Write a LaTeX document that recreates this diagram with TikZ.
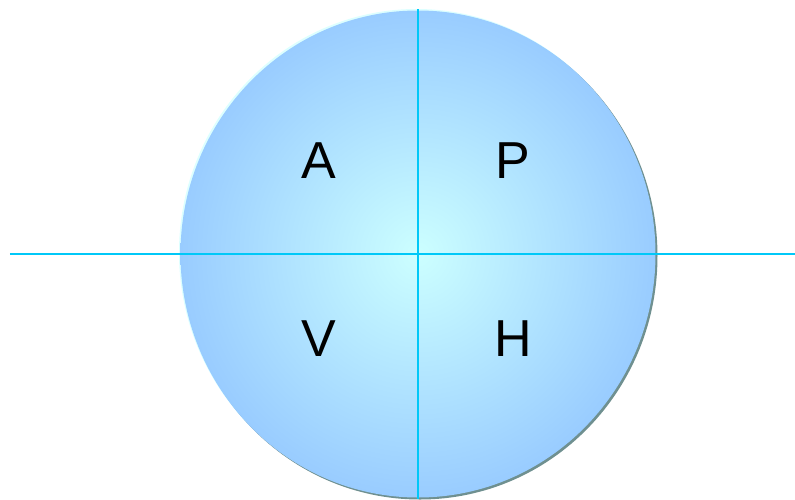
\documentclass[tikz,border=0pt]{standalone}
\usepackage{fontspec}
\setmainfont{Liberation Sans}
\definecolor{axiscolor}  {HTML}{00C8F8}
\definecolor{innerfill}  {HTML}{CCFFFF}
\definecolor{outerfill}  {HTML}{99CCFF}
\definecolor{shadowcolor}{HTML}{6F9090}
\definecolor{glowcolor}  {HTML}{DDFFFF}
\tikzset{
  quadlabel/.style={inner sep=0pt, font=\fontsize{52}{60}\selectfont, text=black},
  axisline/.style={draw=axiscolor, line width=1.9pt}
}
\begin{document}
\begin{tikzpicture}[x=1pt,y=1pt]
\useasboundingbox (-418,-245) rectangle (377,254);

%% ── Disc with edge shadow and glow ───────────────────────────────
\fill[glowcolor] (-1.5,1.5) ellipse [x radius=237.5, y radius=243.5];
\fill[shadowcolor] (2,-2) ellipse [x radius=237.5, y radius=243.5];
\shade[inner color=innerfill, outer color=outerfill]
  (0,0) ellipse [x radius=237.5, y radius=243.5];

%% ── Axes ─────────────────────────────────────────────────────────
\coordinate (west)  at (-408,0);
\coordinate (east)  at (377,0);
\coordinate (north) at (0,245);
\coordinate (south) at (0,-245);
\draw[axisline] (west) -- (east);
\draw[axisline] (north) -- (south);

%% ── Quadrant letters ─────────────────────────────────────────────
\node[quadlabel] (qa) at (-99,93)  {A};
\node[quadlabel] (qp) at (94.5,93) {P};
\node[quadlabel] (qv) at (-99,-85) {V};
\node[quadlabel] (qh) at (95,-85)  {H};
\end{tikzpicture}
\end{document}
